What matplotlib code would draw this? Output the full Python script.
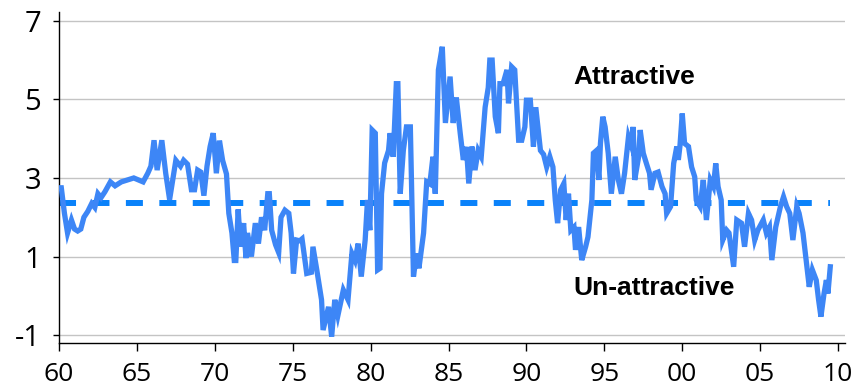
import matplotlib
matplotlib.use("Agg")
import matplotlib.pyplot as plt

# values (decimal year, spread)
years = [
    1960.0, 1960.15, 1960.35, 1960.55, 1960.8, 1961.0, 1961.2, 1961.4, 1961.6, 1961.85,
    1962.1, 1962.3, 1962.5, 1962.7, 1962.95, 1963.3, 1963.6, 1964.0, 1964.4, 1964.8,
    1965.1, 1965.4, 1965.7, 1965.9, 1966.1, 1966.3, 1966.6, 1966.85, 1967.1, 1967.3,
    1967.5, 1967.8, 1968.0, 1968.25, 1968.5, 1968.7, 1968.9, 1969.1, 1969.3, 1969.5,
    1969.7, 1969.9, 1970.1, 1970.3, 1970.5, 1970.75, 1970.9, 1971.1, 1971.25, 1971.35,
    1971.5, 1971.65, 1971.85, 1972.0, 1972.1, 1972.35, 1972.6, 1972.8, 1973.0, 1973.2,
    1973.4, 1973.5, 1973.65, 1973.9, 1974.1, 1974.25, 1974.5, 1974.75, 1974.9, 1975.05,
    1975.25, 1975.45, 1975.6, 1975.75, 1975.9, 1976.2, 1976.3, 1976.55, 1976.85, 1976.95,
    1977.3, 1977.5, 1977.7, 1977.9, 1978.25, 1978.55, 1978.8, 1979.0, 1979.2, 1979.4,
    1979.65, 1979.8, 1979.95, 1980.1, 1980.3, 1980.45, 1980.6, 1980.7, 1980.9, 1981.15,
    1981.25, 1981.45, 1981.65, 1981.75, 1981.9, 1982.1, 1982.3, 1982.55, 1982.75, 1982.95,
    1983.1, 1983.4, 1983.6, 1983.8, 1984.0, 1984.15, 1984.35, 1984.6, 1984.8, 1985.1,
    1985.3, 1985.5, 1985.75, 1985.95, 1986.15, 1986.3, 1986.5, 1986.7, 1986.9, 1987.1,
    1987.35, 1987.55, 1987.65, 1987.8, 1988.0, 1988.2, 1988.3, 1988.5, 1988.75, 1988.85,
    1989.05, 1989.25, 1989.5, 1989.7, 1989.9, 1990.0, 1990.25, 1990.45, 1990.6, 1990.9,
    1991.1, 1991.3, 1991.5, 1991.7, 1991.85, 1992.0, 1992.2, 1992.4, 1992.55, 1992.7,
    1992.85, 1993.05, 1993.15, 1993.35, 1993.55, 1993.8, 1993.95, 1994.2, 1994.3, 1994.5,
    1994.65, 1994.75, 1994.9, 1995.05, 1995.25, 1995.45, 1995.7, 1995.9, 1996.1, 1996.3,
    1996.55, 1996.75, 1996.85, 1996.95, 1997.2, 1997.3, 1997.5, 1997.7, 1997.9, 1998.0,
    1998.25, 1998.45, 1998.7, 1998.9, 1999.0, 1999.25, 1999.45, 1999.65, 1999.75, 1999.85,
    2000.0, 2000.15, 2000.4, 2000.6, 2000.8, 2000.9, 2001.15, 2001.35, 2001.55, 2001.8,
    2002.0, 2002.15, 2002.3, 2002.5, 2002.6, 2002.85, 2003.0, 2003.3, 2003.5, 2003.8,
    2004.0, 2004.25, 2004.45, 2004.65, 2004.85, 2005.2, 2005.4, 2005.6, 2005.75, 2006.0,
    2006.3, 2006.5, 2006.7, 2006.9, 2007.1, 2007.35, 2007.5, 2007.75, 2007.95, 2008.15,
    2008.35, 2008.6, 2008.75, 2008.9, 2009.1, 2009.25, 2009.35, 2009.5,
]
spread = [
    2.75, 2.75, 2.1, 1.6, 1.93, 1.7, 1.65, 1.7, 2.0, 2.15,
    2.35, 2.25, 2.6, 2.5, 2.65, 2.9, 2.8, 2.9, 2.95, 3.0,
    2.95, 2.9, 3.12, 3.3, 3.96, 3.2, 3.96, 3.12, 2.45, 2.95,
    3.45, 3.3, 3.45, 3.35, 2.7, 2.7, 3.2, 3.15, 2.55, 3.3,
    3.8, 4.14, 3.12, 3.95, 3.45, 3.1, 2.1, 1.6, 0.9, 0.9,
    2.2, 1.25, 1.85, 0.96, 1.6, 1.0, 1.85, 1.33, 2.0, 1.67,
    2.6, 2.6, 1.67, 1.3, 1.1, 2.0, 2.18, 2.1, 1.6, 0.57,
    1.42, 1.4, 1.45, 1.0, 0.57, 0.6, 1.25, 0.65, -0.1, -0.87,
    -0.28, -1.04, -0.1, -0.5, 0.15, -0.1, 1.08, 0.9, 1.33, 0.49,
    1.42, 2.44, 1.67, 4.22, 4.14, 0.66, 0.7, 2.6, 3.38, 3.7,
    4.14, 3.54, 5.4, 5.4, 2.6, 3.7, 4.3, 4.3, 0.49, 1.08,
    0.7, 1.6, 2.9, 2.85, 3.54, 2.6, 5.75, 6.34, 4.4, 5.58,
    4.4, 5.05, 4.14, 3.46, 3.79, 2.86, 3.8, 3.2, 3.7, 3.54,
    4.8, 5.3, 6.0, 6.0, 4.56, 4.14, 5.4, 5.4, 5.75, 4.9,
    5.83, 5.75, 3.96, 3.96, 4.3, 4.98, 4.98, 3.8, 4.8, 3.7,
    3.6, 3.28, 3.54, 3.28, 2.44, 1.85, 2.7, 2.86, 1.93, 2.6,
    1.67, 1.75, 1.17, 1.75, 0.91, 1.25, 1.5, 2.44, 3.63, 3.7,
    2.95, 3.88, 4.56, 4.3, 3.63, 2.6, 3.54, 2.95, 2.6, 3.12,
    4.05, 3.8, 4.3, 2.95, 3.54, 4.22, 3.63, 3.37, 3.12, 2.7,
    3.12, 3.15, 2.78, 2.6, 2.1, 2.27, 3.37, 3.8, 3.46, 3.8,
    4.64, 3.88, 3.8, 3.28, 3.03, 2.44, 2.27, 2.95, 1.93, 2.95,
    2.78, 3.37, 2.78, 2.44, 1.42, 1.67, 1.6, 0.74, 1.93, 1.85,
    1.25, 2.1, 1.93, 1.42, 1.67, 1.93, 1.6, 1.75, 0.91, 1.75,
    2.27, 2.52, 2.27, 2.1, 1.42, 2.27, 2.1, 1.6, 0.91, 0.23,
    0.66, 0.4, -0.1, -0.53, 0.06, 0.4, 0.06, 0.74,
]
average = 2.37
avg_span = [1960.0, 2009.5]

x_ticks = [1960, 1965, 1970, 1975, 1980, 1985, 1990, 1995, 2000, 2005, 2010]
x_labels = ["60", "65", "70", "75", "80", "85", "90", "95", "00", "05", "10"]
y_ticks = [-1, 1, 3, 5, 7]

plt.rcParams['font.family'] = ['Liberation Sans Narrow', 'Open Sans']

fig = plt.figure(figsize=(8.61, 3.92), dpi=100)
ax = fig.add_axes([0.0685, 0.125, 0.913, 0.844])

ax.plot(years, spread, color='#3d86f6', lw=3.8, solid_joinstyle='miter', zorder=3)
ax.plot(avg_span, [average, average], color='#0a82fa', lw=4.3,
        dashes=(2.85, 2.75), zorder=2)

ax.set_xlim(1960, 2010.45)
ax.set_ylim(-1.2, 7.22)
ax.set_xticks(x_ticks)
ax.set_xticklabels(x_labels)
ax.set_yticks(y_ticks)
ax.set_yticklabels([str(v) for v in y_ticks])

ax.grid(axis='y', color='#c4c4c4', lw=1)
ax.set_axisbelow(True)
for s in ['top', 'right']:
    ax.spines[s].set_visible(False)
for s in ['left', 'bottom']:
    ax.spines[s].set_linewidth(1)
ax.tick_params(axis='x', length=6, width=1, pad=8, labelsize=19)
ax.tick_params(axis='y', length=4, width=1, pad=9, labelsize=21)

ax.text(1993.0, 5.57, "Attractive", fontsize=19, fontweight='bold',
        family='Liberation Sans', va='center', ha='left')
ax.text(1993.0, 0.2, "Un-attractive", fontsize=19, fontweight='bold',
        family='Liberation Sans', va='center', ha='left')

fig.savefig("out.png", dpi=100)
